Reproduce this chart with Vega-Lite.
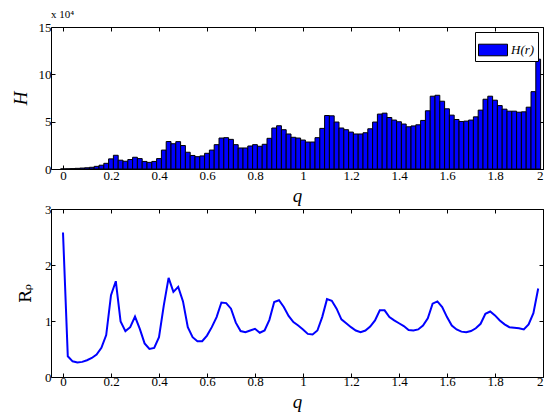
{
  "$schema": "https://vega.github.io/schema/vega-lite/v6.json",
  "padding": {"left": 10, "top": 8, "right": 0, "bottom": 0},
  "spacing": -4,
  "config": {
    "view": {"stroke": "black", "strokeWidth": 1},
    "axis": {
      "grid": false, "domain": false, "tickColor": "black", "tickSize": -4, "tickWidth": 1,
      "labelColor": "black", "labelFont": "Liberation Serif", "labelFontSize": 13,
      "titleColor": "black", "titleFont": "Liberation Serif", "titleFontWeight": "normal"
    },
    "title": {"font": "Liberation Serif", "fontWeight": "normal", "color": "black"}
  },
  "datasets": {
    "hist": [
      {"q": 0.00, "H": 100}, {"q": 0.02, "H": 200}, {"q": 0.04, "H": 400}, {"q": 0.06, "H": 700},
      {"q": 0.08, "H": 1000}, {"q": 0.10, "H": 1300}, {"q": 0.12, "H": 1800}, {"q": 0.14, "H": 2800},
      {"q": 0.16, "H": 4000}, {"q": 0.18, "H": 6000}, {"q": 0.20, "H": 10700}, {"q": 0.22, "H": 14500},
      {"q": 0.24, "H": 9300}, {"q": 0.26, "H": 8200}, {"q": 0.28, "H": 10000}, {"q": 0.30, "H": 12400},
      {"q": 0.32, "H": 11000}, {"q": 0.34, "H": 8000}, {"q": 0.36, "H": 7000}, {"q": 0.38, "H": 8000},
      {"q": 0.40, "H": 11000}, {"q": 0.42, "H": 20000}, {"q": 0.44, "H": 29000}, {"q": 0.46, "H": 26700},
      {"q": 0.48, "H": 28900}, {"q": 0.50, "H": 24800}, {"q": 0.52, "H": 17700}, {"q": 0.54, "H": 14300},
      {"q": 0.56, "H": 13000}, {"q": 0.58, "H": 13800}, {"q": 0.60, "H": 16600}, {"q": 0.62, "H": 20000},
      {"q": 0.64, "H": 25700}, {"q": 0.66, "H": 32700}, {"q": 0.68, "H": 33100}, {"q": 0.70, "H": 31300},
      {"q": 0.72, "H": 25700}, {"q": 0.74, "H": 22200}, {"q": 0.76, "H": 22200}, {"q": 0.78, "H": 24300},
      {"q": 0.80, "H": 25700}, {"q": 0.82, "H": 24000}, {"q": 0.84, "H": 26100}, {"q": 0.86, "H": 32400},
      {"q": 0.88, "H": 43300}, {"q": 0.90, "H": 45700}, {"q": 0.92, "H": 41500}, {"q": 0.94, "H": 37000},
      {"q": 0.96, "H": 33500}, {"q": 0.98, "H": 32700}, {"q": 1.00, "H": 30600}, {"q": 1.02, "H": 28500},
      {"q": 1.04, "H": 28500}, {"q": 1.06, "H": 33100}, {"q": 1.08, "H": 42900}, {"q": 1.10, "H": 56500},
      {"q": 1.12, "H": 56200}, {"q": 1.14, "H": 49600}, {"q": 1.16, "H": 43300}, {"q": 1.18, "H": 41500},
      {"q": 1.20, "H": 39000}, {"q": 1.22, "H": 37000}, {"q": 1.24, "H": 37000}, {"q": 1.26, "H": 38300},
      {"q": 1.28, "H": 42500}, {"q": 1.30, "H": 49600}, {"q": 1.32, "H": 58000}, {"q": 1.34, "H": 59000},
      {"q": 1.36, "H": 54400}, {"q": 1.38, "H": 51700}, {"q": 1.40, "H": 49900}, {"q": 1.42, "H": 47500},
      {"q": 1.44, "H": 44600}, {"q": 1.46, "H": 45500}, {"q": 1.48, "H": 46700}, {"q": 1.50, "H": 51300},
      {"q": 1.52, "H": 61500}, {"q": 1.54, "H": 76900}, {"q": 1.56, "H": 77900}, {"q": 1.58, "H": 71600},
      {"q": 1.60, "H": 63600}, {"q": 1.62, "H": 56900}, {"q": 1.64, "H": 52300}, {"q": 1.66, "H": 50200},
      {"q": 1.68, "H": 50600}, {"q": 1.70, "H": 51700}, {"q": 1.72, "H": 55100}, {"q": 1.74, "H": 62200},
      {"q": 1.76, "H": 73700}, {"q": 1.78, "H": 76900}, {"q": 1.80, "H": 72700}, {"q": 1.82, "H": 67000},
      {"q": 1.84, "H": 63200}, {"q": 1.86, "H": 61100}, {"q": 1.88, "H": 61100}, {"q": 1.90, "H": 60000},
      {"q": 1.92, "H": 60400}, {"q": 1.94, "H": 65300}, {"q": 1.96, "H": 81700}, {"q": 1.98, "H": 116000}
    ],
    "ratio": [
      {"q": 0.00, "R": 2.58}, {"q": 0.02, "R": 0.37}, {"q": 0.04, "R": 0.28}, {"q": 0.06, "R": 0.26},
      {"q": 0.08, "R": 0.27}, {"q": 0.10, "R": 0.30}, {"q": 0.12, "R": 0.34}, {"q": 0.14, "R": 0.40},
      {"q": 0.16, "R": 0.52}, {"q": 0.18, "R": 0.75}, {"q": 0.20, "R": 1.46}, {"q": 0.22, "R": 1.71},
      {"q": 0.24, "R": 0.99}, {"q": 0.26, "R": 0.82}, {"q": 0.28, "R": 0.89}, {"q": 0.30, "R": 1.08},
      {"q": 0.32, "R": 0.86}, {"q": 0.34, "R": 0.60}, {"q": 0.36, "R": 0.50}, {"q": 0.38, "R": 0.52},
      {"q": 0.40, "R": 0.71}, {"q": 0.42, "R": 1.28}, {"q": 0.44, "R": 1.77}, {"q": 0.46, "R": 1.52},
      {"q": 0.48, "R": 1.61}, {"q": 0.50, "R": 1.35}, {"q": 0.52, "R": 0.89}, {"q": 0.54, "R": 0.71},
      {"q": 0.56, "R": 0.64}, {"q": 0.58, "R": 0.64}, {"q": 0.60, "R": 0.74}, {"q": 0.62, "R": 0.89},
      {"q": 0.64, "R": 1.07}, {"q": 0.66, "R": 1.33}, {"q": 0.68, "R": 1.32}, {"q": 0.70, "R": 1.22},
      {"q": 0.72, "R": 0.97}, {"q": 0.74, "R": 0.82}, {"q": 0.76, "R": 0.80}, {"q": 0.78, "R": 0.83},
      {"q": 0.80, "R": 0.86}, {"q": 0.82, "R": 0.79}, {"q": 0.84, "R": 0.83}, {"q": 0.86, "R": 1.02},
      {"q": 0.88, "R": 1.34}, {"q": 0.90, "R": 1.37}, {"q": 0.92, "R": 1.25}, {"q": 0.94, "R": 1.09},
      {"q": 0.96, "R": 0.98}, {"q": 0.98, "R": 0.92}, {"q": 1.00, "R": 0.85}, {"q": 1.02, "R": 0.77},
      {"q": 1.04, "R": 0.76}, {"q": 1.06, "R": 0.83}, {"q": 1.08, "R": 1.07}, {"q": 1.10, "R": 1.39},
      {"q": 1.12, "R": 1.36}, {"q": 1.14, "R": 1.22}, {"q": 1.16, "R": 1.03}, {"q": 1.18, "R": 0.96},
      {"q": 1.20, "R": 0.89}, {"q": 1.22, "R": 0.83}, {"q": 1.24, "R": 0.80}, {"q": 1.26, "R": 0.83},
      {"q": 1.28, "R": 0.90}, {"q": 1.30, "R": 1.01}, {"q": 1.32, "R": 1.19}, {"q": 1.34, "R": 1.19},
      {"q": 1.36, "R": 1.07}, {"q": 1.38, "R": 1.01}, {"q": 1.40, "R": 0.96}, {"q": 1.42, "R": 0.91},
      {"q": 1.44, "R": 0.84}, {"q": 1.46, "R": 0.83}, {"q": 1.48, "R": 0.85}, {"q": 1.50, "R": 0.92},
      {"q": 1.52, "R": 1.05}, {"q": 1.54, "R": 1.31}, {"q": 1.56, "R": 1.35}, {"q": 1.58, "R": 1.25},
      {"q": 1.60, "R": 1.07}, {"q": 1.62, "R": 0.92}, {"q": 1.64, "R": 0.85}, {"q": 1.66, "R": 0.81},
      {"q": 1.68, "R": 0.80}, {"q": 1.70, "R": 0.82}, {"q": 1.72, "R": 0.87}, {"q": 1.74, "R": 0.95},
      {"q": 1.76, "R": 1.13}, {"q": 1.78, "R": 1.17}, {"q": 1.80, "R": 1.10}, {"q": 1.82, "R": 1.01},
      {"q": 1.84, "R": 0.94}, {"q": 1.86, "R": 0.89}, {"q": 1.88, "R": 0.88}, {"q": 1.90, "R": 0.87},
      {"q": 1.92, "R": 0.85}, {"q": 1.94, "R": 0.94}, {"q": 1.96, "R": 1.14}, {"q": 1.98, "R": 1.58}
    ]
  },
  "vconcat": [
    {
      "width": 492, "height": 142,
      "title": {"text": "x 10⁴", "anchor": "start", "frame": "group", "fontSize": 11, "offset": 1},
      "data": {"name": "hist"},
      "layer": [
        {
          "mark": {"type": "bar", "size": 4.8, "stroke": "black", "strokeWidth": 1},
          "encoding": {
            "x": {"field": "q", "type": "quantitative",
                  "scale": {"domain": [-0.05, 2], "nice": false, "zero": false, "padding": 0},
                  "axis": {"values": [0, 0.2, 0.4, 0.6, 0.8, 1, 1.2, 1.4, 1.6, 1.8, 2], "format": "~g", "labelFlush": true,
                           "labelPadding": 4, "title": "q", "titleFontStyle": "italic", "titleFontSize": 19, "titlePadding": 4}},
            "y": {"field": "H", "type": "quantitative",
                  "scale": {"domain": [0, 150000], "nice": false},
                  "axis": {"values": [0, 50000, 100000, 150000], "labelExpr": "datum.value / 10000",
                           "labelPadding": 4, "title": "H", "titleFontStyle": "italic", "titleFontSize": 19, "titlePadding": 8}},
            "color": {"datum": "H(r)", "type": "nominal", "scale": {"range": ["#0000ff"]},
                      "legend": {"title": null, "orient": "top-right", "offset": 5, "strokeColor": "black", "fillColor": "white",
                                 "padding": 3, "symbolType": "M-1,-0.4H1V0.4H-1Z", "symbolSize": 841, "labelOffset": 3,
                                 "symbolStrokeColor": "black", "symbolStrokeWidth": 1, "symbolFillColor": "#0000ff",
                                 "labelFont": "Liberation Serif", "labelFontStyle": "italic", "labelFontSize": 13, "labelColor": "black"}}
          }
        },
        {
          "mark": {"type": "bar", "size": 4.8, "opacity": 0},
          "encoding": {
            "x": {"field": "q", "type": "quantitative", "axis": {"orient": "top", "values": [0, 0.2, 0.4, 0.6, 0.8, 1, 1.2, 1.4, 1.6, 1.8, 2], "labels": false, "title": null, "minExtent": 0, "maxExtent": 0}},
            "y": {"field": "H", "type": "quantitative", "axis": {"orient": "right", "values": [0, 50000, 100000, 150000], "labels": false, "title": null, "minExtent": 0, "maxExtent": 0}}
          }
        }
      ],
      "resolve": {"axis": {"x": "independent", "y": "independent"}}
    },
    {
      "width": 492, "height": 168,
      "data": {"name": "ratio"},
      "layer": [
        {
          "mark": {"type": "line", "color": "#0000ff", "strokeWidth": 2},
          "encoding": {
            "x": {"field": "q", "type": "quantitative",
                  "scale": {"domain": [-0.05, 2], "nice": false, "zero": false, "padding": 0},
                  "axis": {"values": [0, 0.2, 0.4, 0.6, 0.8, 1, 1.2, 1.4, 1.6, 1.8, 2], "format": "~g", "labelFlush": true,
                           "labelPadding": 2, "title": "q", "titleFontStyle": "italic", "titleFontSize": 19, "titlePadding": 4}},
            "y": {"field": "R", "type": "quantitative",
                  "scale": {"domain": [0, 3], "nice": false},
                  "axis": {"values": [0, 1, 2, 3], "labelPadding": 4, "title": "Rᵨ", "titleFont": "DejaVu Serif", "titleFontSize": 17, "titlePadding": 10}}
          }
        },
        {
          "mark": {"type": "line", "opacity": 0},
          "encoding": {
            "x": {"field": "q", "type": "quantitative", "axis": {"orient": "top", "values": [0, 0.2, 0.4, 0.6, 0.8, 1, 1.2, 1.4, 1.6, 1.8, 2], "labels": false, "title": null, "minExtent": 0, "maxExtent": 0}},
            "y": {"field": "R", "type": "quantitative", "axis": {"orient": "right", "values": [0, 1, 2, 3], "labels": false, "title": null, "minExtent": 0, "maxExtent": 0}}
          }
        }
      ],
      "resolve": {"axis": {"x": "independent", "y": "independent"}}
    }
  ]
}
